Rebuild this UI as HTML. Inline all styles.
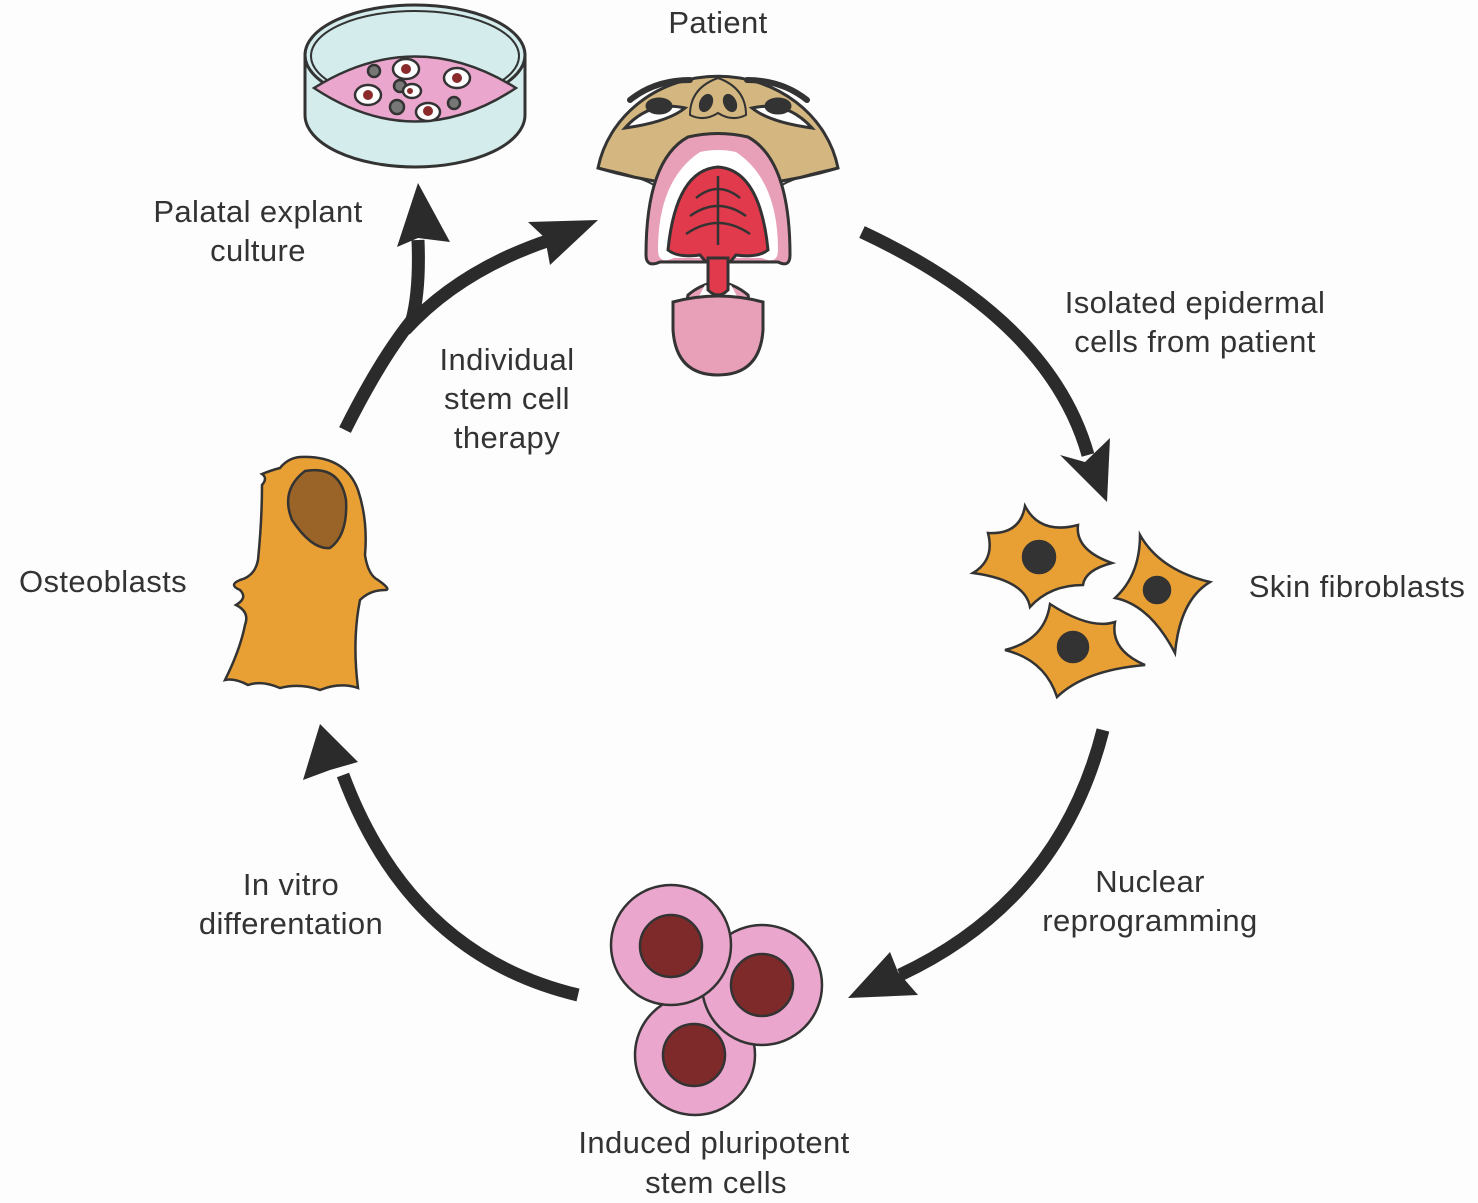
<!DOCTYPE html>
<html><head><meta charset="utf-8"><style>
html,body{margin:0;padding:0;background:#fdfdfd;}
svg{display:block;}
text{font-family:"Liberation Sans",sans-serif;font-size:31px;letter-spacing:0.4px;fill:#333;}
</style></head><body>
<svg width="1478" height="1203" viewBox="0 0 1478 1203" xmlns="http://www.w3.org/2000/svg">
<rect width="1478" height="1203" fill="#fdfdfd"/>
<!-- Petri dish -->
<g stroke="#333" stroke-width="3">
<path d="M305,55 L305,115 A110,52 0 0 0 525,115 L525,55 Z" fill="#d4ecec"/>
<ellipse cx="415" cy="55" rx="110" ry="50" fill="#d4ecec"/>
<ellipse cx="415" cy="56" rx="104" ry="45" fill="none" stroke-width="2"/>
<path d="M314,88 Q415,25 516,88 Q415,155 314,88 Z" fill="#eaa6cc" stroke-width="2.5"/>
<g stroke-width="2.5">
<circle cx="374" cy="71" r="6" fill="#777"/>
<circle cx="400" cy="86" r="6" fill="#777"/>
<circle cx="397" cy="107" r="7" fill="#777"/>
<circle cx="454" cy="103" r="6" fill="#777"/>
<ellipse cx="406" cy="69" rx="13" ry="10" fill="#fff"/><circle cx="406" cy="69" r="5" fill="#8a2a2a" stroke="none"/>
<ellipse cx="457" cy="78" rx="13" ry="10" fill="#fff"/><circle cx="457" cy="78" r="5" fill="#8a2a2a" stroke="none"/>
<ellipse cx="368" cy="95" rx="13" ry="10" fill="#fff"/><circle cx="368" cy="95" r="5" fill="#8a2a2a" stroke="none"/>
<ellipse cx="428" cy="112" rx="12" ry="9" fill="#fff"/><circle cx="428" cy="111" r="5" fill="#8a2a2a" stroke="none"/>
<ellipse cx="412" cy="91" rx="9" ry="7" fill="#fff"/><circle cx="410" cy="91" r="3" fill="#8a2a2a" stroke="none"/>
</g>
</g>
<!-- Patient face -->
<g stroke="#333" stroke-width="3">
<path d="M598,168 A122,112 0 0 1 838,168 Q780,185 718,188 Q656,185 598,168 Z" fill="#d3b680"/>
<path d="M598,168 Q650,178 660,190" fill="none" stroke-width="2"/>
<path d="M838,168 Q786,178 776,190" fill="none" stroke-width="2"/>
<path d="M625,128 Q650,100 685,108 Q668,122 625,128 Z" fill="#fff"/>
<ellipse cx="659" cy="106" rx="12" ry="7" fill="#333"/>
<path d="M812,128 Q787,100 752,108 Q769,122 812,128 Z" fill="#fff"/>
<ellipse cx="778" cy="106" rx="12" ry="7" fill="#333"/>
<path d="M630,100 Q655,80 690,80" fill="none" stroke-width="6" stroke-linecap="round"/>
<path d="M807,100 Q782,80 747,80" fill="none" stroke-width="6" stroke-linecap="round"/>
<path d="M690,115 Q690,88 718,78 Q746,88 746,115 Q732,122 718,113 Q704,122 690,115 Z" fill="#d3b680" stroke-width="2"/>
<ellipse cx="706" cy="103" rx="5" ry="8" fill="#333" transform="rotate(25 706 103)"/>
<ellipse cx="730" cy="103" rx="5" ry="8" fill="#333" transform="rotate(-25 730 103)"/>
<path d="M688,137 Q718,130 748,137 Q790,160 790,255 Q790,268 778,262 L660,262 Q646,268 646,255 Q646,160 688,137 Z" fill="#e8a0b8"/>
<path d="M700,152 Q718,148 736,152 Q778,180 778,250 Q778,265 762,258 L674,258 Q658,265 658,250 Q658,180 700,152 Z" fill="#fff" stroke="none"/>
<path d="M718,167 Q760,170 768,250 Q758,258 736,255 L730,262 L706,262 L700,255 Q678,258 668,250 Q676,170 718,167 Z" fill="#e03a4c"/>
<g fill="none" stroke-width="2.5">
<line x1="718" y1="176" x2="718" y2="245"/>
<path d="M696,198 Q718,180 740,198"/>
<path d="M690,216 Q718,196 746,216"/>
<path d="M686,234 Q718,212 750,234"/>
</g>
<path d="M688,295 Q718,270 748,295 Q752,310 718,315 Q684,310 688,295 Z" fill="#e8a0b8"/>
<path d="M705,285 Q718,290 731,285 L738,298 L698,298 Z" fill="#fff" stroke="none"/>
<path d="M708,258 L728,258 L728,290 Q718,300 708,290 Z" fill="#e03a4c"/>
<path d="M673,302 Q718,290 763,302 L763,330 Q760,375 718,375 Q676,375 673,330 Z" fill="#e8a0b8"/>
</g>
<!-- Arrows -->
<g fill="none" stroke="#2b2b2b" stroke-width="13">
<path d="M862,232 Q1050,320 1088,455"/>
<path d="M1103,730 Q1060,900 900,975"/>
<path d="M578,995 Q410,955 343,775"/>
<path d="M345,430 Q380,360 412,320 Q420,290 418,240"/>
<path d="M405,330 Q460,270 550,240"/>
</g>
<g fill="#2b2b2b">
<polygon points="1107,502 1060,455 1085,462 1110,438"/>
<polygon points="848,998 890,952 898,972 918,995"/>
<polygon points="320,724 303,780 330,770 358,762"/>
<polygon points="418,183 397,247 418,238 450,242"/>
<polygon points="598,220 528,222 545,238 550,265"/>
</g>
<!-- Fibroblasts -->
<g stroke="#333" stroke-width="2.5" fill="#e8a035">
<path d="M1025,506 Q1040,535 1078,525 Q1075,550 1112,563 Q1085,570 1083,585 Q1050,585 1030,607 Q1025,580 973,573 Q995,560 988,533 Q1020,535 1025,506 Z"/>
<path d="M1140,535 Q1160,570 1210,582 Q1180,600 1175,653 Q1150,605 1115,598 Q1140,575 1140,535 Z"/>
<path d="M1050,604 Q1090,630 1115,622 Q1110,650 1145,665 Q1085,670 1057,697 Q1045,660 1005,650 Q1045,640 1050,604 Z"/>
<g fill="#333"><circle cx="1039" cy="557" r="16"/><circle cx="1157" cy="590" r="13"/><circle cx="1073" cy="647" r="15"/></g>
</g>
<!-- Osteoblast -->
<g stroke="#333" stroke-width="2.5">
<path d="M300,457 Q345,455 358,490 Q368,520 365,555 Q368,575 378,580 Q392,590 385,590 Q370,590 360,600 Q352,640 358,688 Q340,682 320,690 Q300,683 280,688 Q262,680 248,685 Q235,678 225,680 Q240,650 245,625 Q250,612 236,605 Q248,598 240,590 Q228,585 240,580 Q255,576 258,560 Q262,520 262,485 Q268,478 262,474 Q272,470 280,468 Q288,458 300,457 Z" fill="#e8a035"/>
<path d="M305,471 Q340,465 346,500 Q348,535 330,548 Q312,550 292,520 Q280,490 305,471 Z" fill="#9a6428"/>
</g>
<!-- iPS cells -->
<g stroke="#333" stroke-width="2.5">
<circle cx="695" cy="1055" r="60" fill="#eaa6cc"/>
<circle cx="762" cy="985" r="60" fill="#eaa6cc"/>
<circle cx="671" cy="945" r="60" fill="#eaa6cc"/>
<circle cx="671" cy="946" r="31" fill="#7e2a2a"/>
<circle cx="762" cy="985" r="31" fill="#7e2a2a"/>
<circle cx="694" cy="1055" r="31" fill="#7e2a2a"/>
</g>
<!-- Labels -->
<text x="718" y="33" text-anchor="middle">Patient</text>
<text x="258" y="222" text-anchor="middle">Palatal explant</text>
<text x="258" y="261" text-anchor="middle">culture</text>
<text x="507" y="370" text-anchor="middle">Individual</text>
<text x="507" y="409" text-anchor="middle">stem cell</text>
<text x="507" y="448" text-anchor="middle">therapy</text>
<text x="1195" y="313" text-anchor="middle">Isolated epidermal</text>
<text x="1195" y="352" text-anchor="middle">cells from patient</text>
<text x="1357" y="597" text-anchor="middle">Skin fibroblasts</text>
<text x="103" y="592" text-anchor="middle">Osteoblasts</text>
<text x="1150" y="892" text-anchor="middle">Nuclear</text>
<text x="1150" y="931" text-anchor="middle">reprogramming</text>
<text x="291" y="895" text-anchor="middle">In vitro</text>
<text x="291" y="934" text-anchor="middle">differentation</text>
<text x="714" y="1153" text-anchor="middle">Induced pluripotent</text>
<text x="716" y="1193" text-anchor="middle">stem cells</text>
</svg>
</body></html>
